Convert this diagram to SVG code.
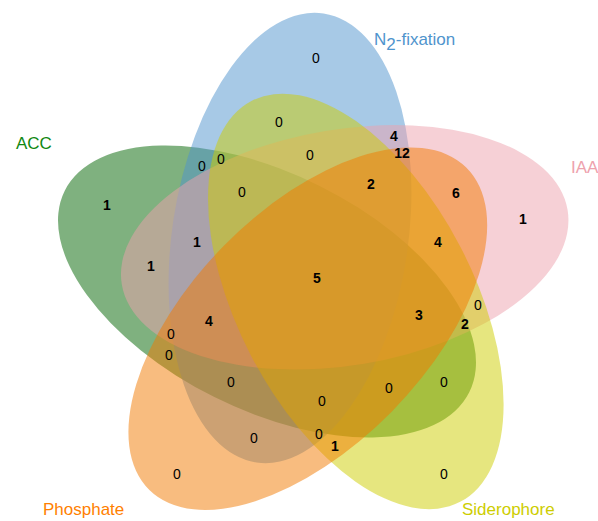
<svg xmlns="http://www.w3.org/2000/svg" width="598" height="521" viewBox="0 0 598 521">
<style>
.set{opacity:0.5}
.cat{font-family:"Liberation Sans",Arial,sans-serif;font-size:17px}
.n{font-family:"Liberation Sans",Arial,sans-serif;font-size:14px;text-anchor:middle;fill:#000}
.b{font-weight:bold}
</style>
<rect width="598" height="521" fill="#fff"/>
<g id="ellipses">
<g id="set-acc"><ellipse class="set" cx="0" cy="0" rx="226" ry="118" fill="#006400" transform="translate(267,291.5) rotate(206.5)"/></g>
<g id="set-n2"><ellipse class="set" cx="0" cy="0" rx="227" ry="118" fill="#4F94CD" transform="translate(290,238) rotate(-81.5)"/></g>
<g id="set-iaa"><ellipse class="set" cx="0" cy="0" rx="226" ry="118" fill="#EEA2AD" transform="translate(344.7,247.3) rotate(-9.5)"/></g>
<g id="set-sid"><ellipse class="set" cx="0" cy="0" rx="226" ry="118" fill="#CDCD00" transform="translate(355.8,301.4) rotate(62.5)"/></g>
<g id="set-pho"><ellipse class="set" cx="0" cy="0" rx="226" ry="118" fill="#F27A00" transform="translate(307.8,328.7) rotate(134.5)"/></g>
</g>
<g id="categories">
<text class="cat" x="16" y="149" fill="#118811">ACC</text>
<text class="cat" x="374" y="45" fill="#4F94CD">N<tspan dy="5">2</tspan><tspan dy="-5">-fixation</tspan></text>
<text class="cat" x="571" y="173" fill="#EEA2AD" font-size="16">IAA</text>
<text class="cat" x="43" y="515" fill="#FF7F00">Phosphate</text>
<text class="cat" x="462" y="515" fill="#CDCD00">Siderophore</text>
</g>
<g id="counts">
<text class="n" x="316" y="63">0</text>
<text class="n" x="279" y="127">0</text>
<text class="n b" x="394" y="141">4</text>
<text class="n b" x="402" y="158">12</text>
<text class="n" x="310" y="160">0</text>
<text class="n" x="202" y="171">0</text>
<text class="n" x="221" y="164">0</text>
<text class="n" x="242" y="197">0</text>
<text class="n b" x="371" y="189">2</text>
<text class="n b" x="456" y="198">6</text>
<text class="n b" x="523" y="224">1</text>
<text class="n b" x="107" y="210">1</text>
<text class="n b" x="197" y="247">1</text>
<text class="n b" x="438" y="247">4</text>
<text class="n b" x="151" y="271">1</text>
<text class="n b" x="317" y="283">5</text>
<text class="n" x="478" y="310">0</text>
<text class="n b" x="419" y="320">3</text>
<text class="n b" x="465" y="329">2</text>
<text class="n b" x="209" y="326">4</text>
<text class="n" x="171" y="339">0</text>
<text class="n" x="169" y="360">0</text>
<text class="n" x="231" y="387">0</text>
<text class="n" x="444" y="387">0</text>
<text class="n" x="389" y="393">0</text>
<text class="n" x="322" y="406">0</text>
<text class="n" x="254" y="443">0</text>
<text class="n" x="319" y="439">0</text>
<text class="n b" x="335" y="451">1</text>
<text class="n" x="177" y="479">0</text>
<text class="n" x="444" y="479">0</text>
</g>
</svg>
